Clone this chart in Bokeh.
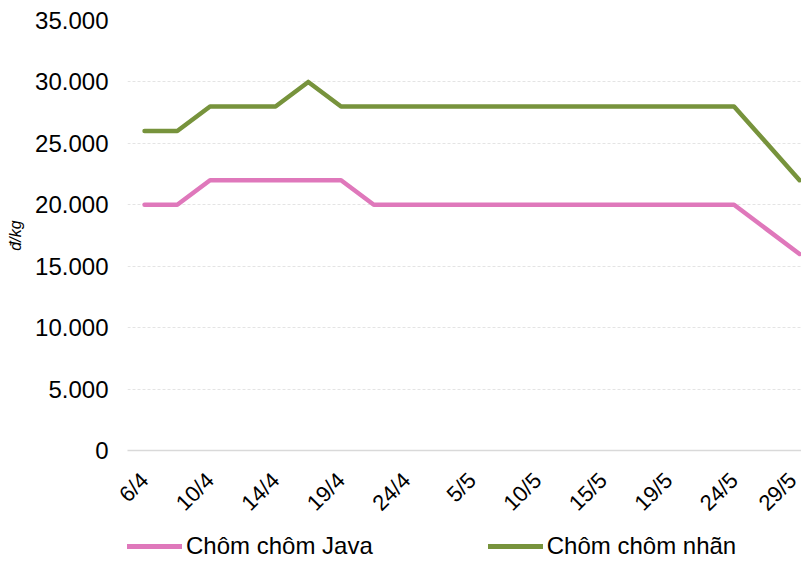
from bokeh.plotting import figure
from bokeh.layouts import column
from bokeh.models import Range1d, FixedTicker, Legend, LegendItem, ColumnDataSource
from bokeh.embed import file_html
from bokeh.resources import INLINE
import math

dates = ["6/4", "8/4", "10/4", "12/4", "14/4", "17/4", "19/4", "21/4", "24/4", "27/4",
         "5/5", "8/5", "10/5", "12/5", "15/5", "17/5", "19/5", "22/5", "24/5", "26/5", "29/5"]
java = [20000, 20000, 22000, 22000, 22000, 22000, 22000, 20000, 20000, 20000,
        20000, 20000, 20000, 20000, 20000, 20000, 20000, 20000, 20000, 18000, 16000]
nhan = [26000, 26000, 28000, 28000, 28000, 30000, 28000, 28000, 28000, 28000,
        28000, 28000, 28000, 28000, 28000, 28000, 28000, 28000, 28000, 25000, 22000]
y_ticks = [0, 5000, 10000, 15000, 20000, 25000, 30000, 35000]
series_names = ["Chôm chôm Java", "Chôm chôm nhãn"]
colors = ["#DF78BB", "#77933C"]

FONT = "Liberation Sans"

idx = list(range(len(dates)))
src = ColumnDataSource(dict(x=idx, java=java, nhan=nhan))

p = figure(width=801, height=527, output_backend="svg", toolbar_location=None,
           x_range=Range1d(-0.52, 20.06), y_range=Range1d(0, 35000),
           min_border_left=127, min_border_right=0, min_border_top=20, min_border_bottom=76)
p.outline_line_color = None
p.background_fill_color = "white"
p.border_fill_color = "white"

p.line("x", "java", source=src, line_color=colors[0], line_width=4.5, line_cap="round", line_join="round")
p.line("x", "nhan", source=src, line_color=colors[1], line_width=4.5, line_cap="round", line_join="round")

# x axis
p.xaxis.ticker = FixedTicker(ticks=idx[::2])
p.xaxis.major_label_overrides = {i: dates[i] for i in idx}
p.xaxis.major_label_orientation = math.pi / 4
p.xaxis.axis_line_color = "#d9d9d9"
p.xaxis.axis_line_width = 1.5
p.xaxis.major_tick_line_color = None
p.xaxis.minor_tick_line_color = None
p.xaxis.major_label_text_font = FONT
p.xaxis.major_label_text_font_size = "22px"
p.xaxis.major_label_text_color = "black"
p.xaxis.major_label_standoff = 20
p.xgrid.grid_line_color = None

# y axis
p.yaxis.ticker = FixedTicker(ticks=y_ticks)
p.yaxis.major_label_overrides = {v: f"{v:,}".replace(",", ".") for v in y_ticks}
p.yaxis.axis_line_color = None
p.yaxis.major_tick_line_color = None
p.yaxis.minor_tick_line_color = None
p.yaxis.major_label_text_font = FONT
p.yaxis.major_label_text_font_size = "24px"
p.yaxis.major_label_text_color = "black"
p.yaxis.major_label_standoff = 13
p.yaxis.axis_label = "đ/kg"
p.yaxis.axis_label_text_font = FONT
p.yaxis.axis_label_text_font_style = "italic"
p.yaxis.axis_label_text_font_size = "16px"
p.yaxis.axis_label_text_color = "black"
p.yaxis.axis_label_standoff = 8
p.ygrid.grid_line_color = "#e4e4e4"
p.ygrid.grid_line_dash = "3 2"
p.ygrid.grid_line_width = 1

# legend strip (series drawn off-frame so only the legend shows)
q = figure(width=801, height=33, output_backend="svg", toolbar_location=None,
           x_range=Range1d(0, 1), y_range=Range1d(0, 1),
           min_border_left=127, min_border_right=0, min_border_top=0, min_border_bottom=0)
q.outline_line_color = None
q.axis.visible = False
q.grid.visible = False
l1 = q.line("x", "java", source=src, line_color=colors[0], line_width=5, line_cap="round")
l2 = q.line("x", "nhan", source=src, line_color=colors[1], line_width=5, line_cap="round")
legend = Legend(items=[LegendItem(label=series_names[0], renderers=[l1]),
                       LegendItem(label=series_names[1], renderers=[l2])],
                orientation="horizontal", location="bottom_left",
                glyph_width=55, label_standoff=4, spacing=115, margin=0, padding=1,
                label_text_font=FONT, label_text_font_size="24px", label_text_color="black",
                border_line_color=None, background_fill_alpha=0)
q.add_layout(legend, "center")

open("out.html", "w").write(file_html(column(p, q, spacing=0), INLINE))
